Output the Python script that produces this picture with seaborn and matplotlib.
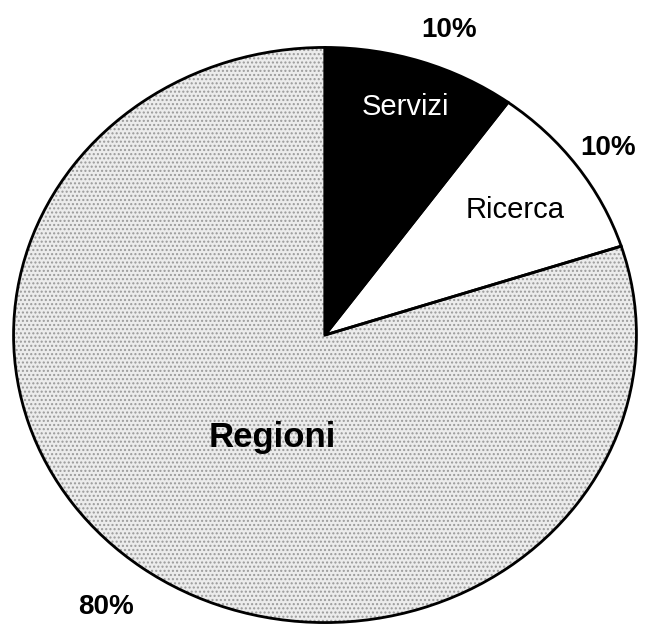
import matplotlib.pyplot as plt
import seaborn as sns

sns.set_theme(style='white')
plt.rcParams['font.family'] = ['Liberation Sans', 'DejaVu Sans']
plt.rcParams['text.color'] = 'black'

# %%
labels = ['Servizi', 'Ricerca', 'Regioni']
shares = [10, 10, 80]
pct_text = ['10%', '10%', '80%']
colors = ['black', 'white', '#ececec']

W, H = 649, 625
fig = plt.figure(figsize=(W / 100, H / 100), dpi=100)
fig.patch.set_facecolor('white')
# pie is a bit squashed in the scan, so no equal aspect
ax = fig.add_axes([12 / W, 1 / H, 626 / W, 578 / H])

wedges, _ = ax.pie(shares, colors=colors, startangle=90, counterclock=False,
                   wedgeprops=dict(linewidth=0))
# stippled fill on the big slice
wedges[2].set_hatch('....')
wedges[2].set_edgecolor('#9a9a9a')
# black outline on top
ax.pie(shares, colors=['none'] * 3, startangle=90, counterclock=False,
       wedgeprops=dict(linewidth=2, edgecolor='black', fill=False))
ax.set_aspect('auto')
ax.set_xlim(-1.005, 1.005)
ax.set_ylim(-1.005, 1.005)
ax.axis('off')

# %%
def px(x, y):
    return x / W, 1 - y / H

fig.text(*px(449, 30), pct_text[0], ha='center', va='center', fontsize=20, fontweight='bold')
fig.text(*px(608, 148), pct_text[1], ha='center', va='center', fontsize=20, fontweight='bold')
fig.text(*px(106, 607), pct_text[2], ha='center', va='center', fontsize=20, fontweight='bold')
fig.text(*px(405, 107), labels[0], ha='center', va='center', fontsize=21, color='white')
fig.text(*px(515, 210), labels[1], ha='center', va='center', fontsize=21, color='black')
fig.text(*px(272, 437), labels[2], ha='center', va='center', fontsize=25, fontweight='bold')

fig.savefig('out.png', dpi=100)
